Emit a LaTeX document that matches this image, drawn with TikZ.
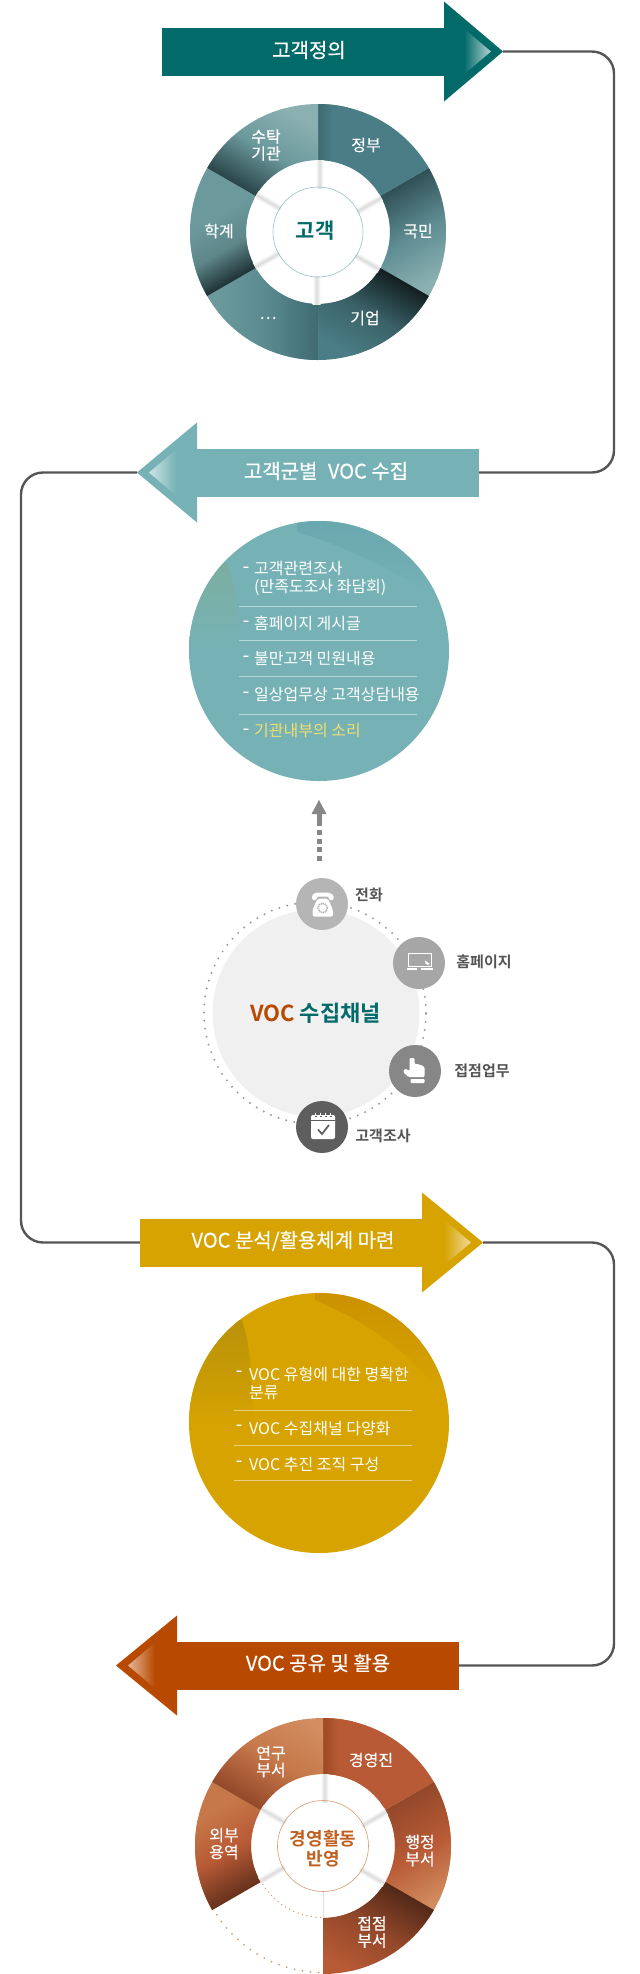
\documentclass[tikz,border=0pt]{standalone}
\usepackage{fontspec}
\newfontfamily\kr{Noto Sans CJK KR}
\newfontfamily\krm[FakeBold=0.35]{Noto Sans CJK KR}
\newfontfamily\krb{Noto Sans CJK KR}[BoldFont={* Bold}]
\definecolor{tealA}{HTML}{036A6A}
\definecolor{tealB}{HTML}{76B2B5}
\definecolor{goldA}{HTML}{D6A300}
\definecolor{rustA}{HTML}{B84900}
\definecolor{connC}{HTML}{555555}
\definecolor{tBase}{HTML}{4A7D85}
\definecolor{tLight}{HTML}{8BB0B1}
\definecolor{tMid}{HTML}{6B999C}
\definecolor{rBase}{HTML}{B85A35}
\definecolor{rLight}{HTML}{D28D60}
\definecolor{rMid}{HTML}{C6784A}
\definecolor{dotA}{HTML}{D89A70}
\definecolor{dotB}{HTML}{9A9A9A}
\definecolor{teTop}{HTML}{68A6AE}
\definecolor{teLeft}{HTML}{7BAEA0}
\definecolor{goTop}{HTML}{CB9100}
\definecolor{goLeft}{HTML}{B8920A}
\definecolor{yelT}{HTML}{F0E06F}
\tikzset{
  x=1pt,y=1pt,
  conn/.style={draw=connC,line width=2.4pt,rounded corners=22pt},
  shaftbox/.style={inner sep=0,minimum height=48pt},
  head/.style={text=white,inner sep=0,font=\krm\fontsize{20}{22}\selectfont},
  seg/.style={text=white,inner sep=0,align=center,font=\krm\fontsize{16}{17}\selectfont},
  item/.style={text=white,inner sep=0,anchor=west,align=left,font=\kr\fontsize{16}{18}\selectfont},
  dashmark/.style={text=white,inner sep=0,font=\krm\fontsize{18}{18}\selectfont},
  chan/.style={text=connC,inner sep=0,font=\krb\bfseries\fontsize{15}{17}\selectfont},
  iconbg/.style={circle,inner sep=0,minimum size=52pt},
  rulew/.style={line width=0.7pt},
}
% sector: a1 a2 direction span colA colM colB
\newcommand{\sect}[7]{%
  \begin{scope}
    \clip ({\cx+\Rout*cos(#1)},{\cy+\Rout*sin(#1)}) arc[start angle=#1,end angle=#2,radius=\Rout]
      -- ({\cx+\Rin*cos(#2)},{\cy+\Rin*sin(#2)}) arc[start angle=#2,end angle=#1,radius=\Rin] -- cycle;
    \fill[#7] (\cx-140,\cy-140) rectangle (\cx+140,\cy+140);
    \begin{scope}[transform canvas={rotate around={#3:(\cx,\cy)}}]
      \shade[left color=#5,right color=#7,middle color=#6] (\cx,\cy-220) rectangle (\cx+#4,\cy+220);
    \end{scope}
  \end{scope}}
% shadow strip in the white ring
\newcommand{\strip}[1]{%
  \begin{scope}[transform canvas={rotate around={#1:(\cx,\cy)}}]
    \shade[top color=white,bottom color=white,middle color=black!14] (\cx+44,\cy-5.5) rectangle (\cx+\Rin,\cy+2.5);
  \end{scope}}
% arrow: name x0 xbase xtip y dir base tip
\newcommand{\arrowfig}[8]{%
  \node (#1) [shaftbox,fill=#7,minimum width={abs(#3-#2)}] at ({(#2+#3)/2},#5) {};
  \coordinate (#1tip) at (#4,#5);
  \fill[#7] (#3,#5+50) -- (#1tip) -- (#3,#5-50) -- cycle;
  \begin{scope}
    \clip ({#4-#6*12-#6*39},#5+33) -- ({#4-#6*12},#5) -- ({#4-#6*12-#6*39},#5-33) -- cycle;
    \ifnum#6=1
      \shade[left color=#7,right color=#8] ({#4-#6*12-#6*27},#5-40) rectangle ({#4-#6*12},#5+40);
    \else
      \shade[left color=#8,right color=#7] ({#4-#6*12},#5-40) rectangle ({#4-#6*12-#6*27},#5+40);
    \fi
  \end{scope}}
\begin{document}
\begin{tikzpicture}
\useasboundingbox (0,0) rectangle (640,-1974);
\coordinate (railR) at (614,0);
\coordinate (railL) at (21,0);

% ---------- arrows
\arrowfig{a1}{162}{444}{503}{-51.5}{1}{tealA}{tealA!30!white}
\arrowfig{a2}{479}{197}{137}{-472.5}{-1}{tealB}{tealB!35!white}
\arrowfig{a3}{140}{422}{483}{-1242.5}{1}{goldA}{goldA!40!white}
\arrowfig{a4}{459}{177}{116}{-1665.5}{-1}{rustA}{rustA!40!white}

% ---------- connectors
\draw[conn] (a1tip) -- (a1tip -| railR) -- (a2.east -| railR) -- (a2.east);
\draw[conn] (a2tip) -- (a2tip -| railL) -- (a3.west -| railL) -- (a3.west);
\draw[conn] (a3tip) -- (a3tip -| railR) -- (a4.east -| railR) -- (a4.east);

\node (t1) [head] at (309,-50) {고객정의};
\node (t2) [head] at (326,-471) {고객군별\hspace{0.3em} VOC 수집};
\node (t3) [head] at (293,-1241) {VOC 분석/활용체계 마련};
\node (t4) [head] at (318,-1663) {VOC 공유 및 활용};

% ---------- donut 1
\def\cx{318}\def\cy{-232}\def\Rout{128}\def\Rin{72}
\sect{90}{30}{0}{30}{tBase!85!black}{tBase}{tBase}
\sect{30}{-30}{-60}{100}{tBase!65!black}{tBase!70!tLight}{tLight}
\sect{-30}{-90}{-120}{90}{tBase!25!black}{tBase!78!black}{tBase}
\sect{-90}{-150}{180}{100}{tBase!85!black}{tBase!55!tMid}{tMid}
\sect{210}{150}{120}{64}{tBase!40!black}{tMid!88!black}{tMid}
\sect{150}{90}{60}{90}{tBase!55!black}{tMid}{tLight}
\foreach \a in {90,30,-30,-90,-150,150} {\strip{\a}}
\node (c1) [circle,draw=tealB!80!white,line width=0.6pt,inner sep=0,minimum size=90pt] at (\cx,\cy) {};
\node (c1t) [inner sep=0,text=tealA,font=\krb\bfseries\fontsize{21}{24}\selectfont] at (315,-231) {고객};
\node (d1a) [seg] at (366,-145) {정부};
\node (d1b) [seg] at (418,-231) {국민};
\node (d1c) [seg] at (365,-318) {기업};
\node (d1d) [seg] at (268,-318) {…};
\node (d1e) [seg] at (219,-231) {학계};
\node (d1f) [seg] at (266,-145) {수탁\\기관};

% ---------- circle 2
\begin{scope}
  \clip (319,-651) circle[radius=130];
  \fill[tealB] (180,-510) rectangle (460,-790);
  \shade[top color=teLeft,bottom color=tealB] (185,-560) -- (227,-563) .. controls (238,-590) and (238,-620) .. (240,-650) -- (185,-650) -- cycle;
  \shade[top color=teTop,bottom color=tealB] (297,-510) -- (297,-532) .. controls (340,-545) and (385,-565) .. (423,-590) -- (460,-600) -- (460,-510) -- cycle;
\end{scope}
\node (l2a) [item] at (254,-578) {고객관련조사\\(만족도조사 좌담회)};
\node (l2b) [item] at (254,-623) {홈페이지 게시글};
\node (l2c) [item] at (254,-658) {불만고객 민원내용};
\node (l2d) [item] at (254,-694) {일상업무상 고객상담내용};
\node (l2e) [item,text=yelT] at (254,-731) {기관내부의 소리};
\foreach \nm/\yy in {a/-569.5,b/-623.5,c/-658.5,d/-694.5,e/-731.5} {\node (m2\nm) [dashmark] at (246,\yy) {-};}
\foreach \yy in {606,640,676,714} {\draw[rulew,draw=white!50!tealB] (239,-\yy) -- (417,-\yy);}

% ---------- dashed arrow
\coordinate (upA) at (319,-861);
\coordinate (upB) at (319,-825);
\coordinate (upC) at (319,-814);
\coordinate (upD) at (319,-800);
\draw[draw=black!47,line width=5pt,dash pattern=on 5pt off 3.7pt] (upA) -- (upB);
\draw[draw=black!47,line width=5pt] (upB) -- (upC);
\fill[black!47] (311.5,-814) -- (upD) -- (326.5,-814) -- cycle;

% ---------- channels
\node (ch) [circle,fill=black!6,inner sep=0,minimum size=207pt] at (316,-1013) {};
\draw[draw=dotB,line width=2.2pt,line cap=round,dash pattern=on 0pt off 8.1pt] (315,-1013) circle[radius=111];
\node (cht) [inner sep=0,font=\krb\bfseries\fontsize{22}{24}\selectfont] at (315.5,-1013) {\textcolor{rustA}{VOC} \textcolor{tealA}{수집채널}};
\node (i1) [iconbg,fill=black!29] at (322,-904) {};
\node (i2) [iconbg,fill=black!35] at (419,-963) {};
\node (i3) [iconbg,fill=black!47] at (415,-1071) {};
\node (i4) [iconbg,fill=black!63] at (322,-1127) {};
\node (i1t) [chan] at (369,-895) {전화};
\node (i2t) [chan] at (484,-962) {홈페이지};
\node (i3t) [chan] at (482,-1071) {접점업무};
\node (i4t) [chan] at (383,-1136) {고객조사};
% phone
\fill[white,rounded corners=1.5pt] (312,-900) -- (312,-895) -- (316,-892.5) -- (329,-892.5) -- (333.5,-895) -- (333.5,-900) -- (329,-900) -- (329,-896.5) -- (316.5,-896.5) -- (316.5,-900) -- cycle;
\fill[white,rounded corners=2pt] (317.5,-898.5) -- (328,-898.5) -- (333,-910) -- (333,-916.5) -- (312.5,-916.5) -- (312.5,-910) -- cycle;
\draw[draw=black!29,line width=1.6pt,dash pattern=on 1.2pt off 0.8pt] (322.7,-908) circle[radius=4.7];
% homepage
\draw[white,line width=1.3pt] (408.5,-953.5) rectangle (431.5,-966.5);
\draw[white,line width=1.8pt] (407,-969) -- (417,-969) (421,-969) -- (433,-969);
\fill[white] (425,-960.5) -- (429.5,-963.5) -- (428,-965) -- (425.5,-963.5) -- cycle;
% hand
\fill[white,rounded corners=1.2pt] (409.5,-1058) -- (414.5,-1058) -- (414.5,-1064.5) -- (417,-1063.5) -- (419.5,-1065) -- (421.5,-1065) -- (424.5,-1067) -- (424.5,-1077) -- (408.5,-1077) -- (403,-1072) -- (405,-1068.5) -- (409.5,-1071) -- cycle;
\fill[white,rounded corners=0.8pt] (410.5,-1079) rectangle (424.5,-1083);
% calendar
\fill[white,rounded corners=2pt] (311,-1115) rectangle (335,-1139);
\draw[draw=black!63,line width=0.9pt] (311,-1120) -- (335,-1120);
\foreach \xx in {315.5,320.5,325.5,330.5} {\draw[draw=white,line width=1pt] (\xx,-1112.5) -- (\xx,-1116);
  \draw[draw=black!63,line width=0.6pt] (\xx-1,-1116.5) -- (\xx+1,-1116.5);}
\draw[draw=black!63,line width=1.7pt] (318,-1129.5) -- (322,-1134) -- (329,-1125);

% ---------- circle 3
\begin{scope}
  \clip (319,-1423) circle[radius=130];
  \fill[goldA] (180,-1280) rectangle (460,-1560);
  \shade[top color=goTop,bottom color=goldA] (315,-1290) -- (315,-1300) .. controls (350,-1315) and (390,-1335) .. (430,-1380) -- (460,-1390) -- (460,-1290) -- cycle;
  \shade[top color=goLeft,bottom color=goldA] (185,-1320) -- (242,-1320) .. controls (250,-1345) and (252,-1370) .. (253,-1425) -- (185,-1425) -- cycle;
\end{scope}
\node (l3a) [item] at (249,-1383) {VOC 유형에 대한 명확한\\분류};
\node (l3b) [item] at (249,-1428) {VOC 수집채널 다양화};
\node (l3c) [item] at (249,-1464) {VOC 추진 조직 구성};
\foreach \nm/\yy in {a/-1373.5,b/-1427.5,c/-1463.5} {\node (m3\nm) [dashmark] at (239,\yy) {-};}
\foreach \yy in {1410,1445,1480} {\draw[rulew,draw=white!50!goldA] (234,-\yy) -- (412,-\yy);}

% ---------- donut 2
\def\cx{323}\def\cy{-1846}\def\Rout{128}\def\Rin{72}
\sect{90}{30}{0}{30}{rBase!75!rustA!85!black}{rBase}{rBase}
\sect{30}{-30}{-60}{105}{rBase!80!black}{rBase}{rLight}
\sect{-30}{-90}{-120}{95}{rBase!45!black}{rBase!80!black}{rBase}
\sect{210}{150}{120}{85}{rBase!55!black}{rBase}{rMid}
\sect{150}{90}{60}{100}{rBase!80!black}{rMid}{rLight}
\foreach \a in {90,30,-30,-150,150} {\strip{\a}}
\draw[draw=black!12,line width=0.6pt] (\cx,\cy-46) -- (\cx,\cy-72);
\draw[draw=dotA,line width=2pt,line cap=round,dash pattern=on 0pt off 8.1pt] ({\cx+126.5*cos(-92)},{\cy+126.5*sin(-92)}) arc[start angle=-92,end angle=-149,radius=126.5];
\draw[draw=dotA,line width=1.5pt,line cap=round,dash pattern=on 0pt off 4.6pt] ({\cx+71.5*cos(-92)},{\cy+71.5*sin(-92)}) arc[start angle=-92,end angle=-149,radius=71.5];
\node (c2) [circle,draw=dotA,line width=0.6pt,inner sep=0,minimum size=91pt] at (\cx,\cy) {};
\node (c2t) [inner sep=0,align=center,text=rustA!88!white,font=\krb\bfseries\fontsize{18}{20}\selectfont] at (323,-1849) {경영활동\\반영};
\node (d2a) [seg] at (371,-1760) {경영진};
\node (d2b) [seg] at (420,-1850.5) {행정\\부서};
\node (d2c) [seg] at (372,-1932) {접점\\부서};
\node (d2d) [seg] at (224,-1843.5) {외부\\용역};
\node (d2e) [seg] at (271,-1761.5) {연구\\부서};
\end{tikzpicture}
\end{document}
